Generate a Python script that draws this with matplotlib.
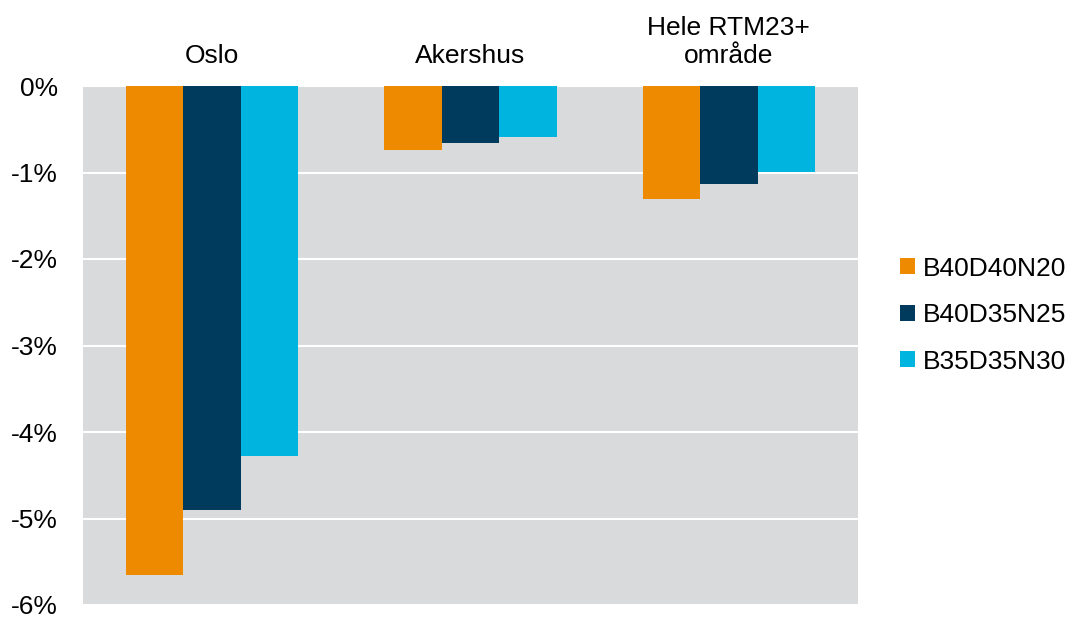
import matplotlib
matplotlib.use("Agg")
import matplotlib.pyplot as plt
import numpy as np
from matplotlib.ticker import FuncFormatter

categories = ["Oslo", "Akershus", "Hele RTM23+\nområde"]
series_names = ["B40D40N20", "B40D35N25", "B35D35N30"]
b40d40n20 = [-5.65, -0.74, -1.31]
b40d35n25 = [-4.90, -0.66, -1.13]
b35d35n30 = [-4.28, -0.59, -0.99]
colors = ["#EE8A00", "#003A5C", "#00B4E0"]

plt.rcParams['font.family'] = ['Liberation Sans', 'DejaVu Sans']

fig = plt.figure(figsize=(10.67, 6.19), dpi=100)
ax = fig.add_axes([83/1067, 1 - 605/619, (858-83)/1067, (605-86)/619])
ax.set_facecolor("#D9DADC")

x = np.arange(len(categories))
w = 0.222
for i, (vals, name) in enumerate(zip([b40d40n20, b40d35n25, b35d35n30], series_names)):
    ax.bar(x + (i - 1) * w, vals, width=w, color=colors[i], label=name, zorder=3)

ax.set_xlim(-0.5, 2.5)
ax.set_ylim(-6, 0)
ax.set_yticks(np.arange(-6, 1, 1))
ax.yaxis.set_major_formatter(FuncFormatter(lambda v, p: f"{int(round(v))}%"))
ax.grid(axis='y', color='white', linewidth=1.5, zorder=1)
for s in ax.spines.values():
    s.set_visible(False)
ax.tick_params(axis='y', length=0, labelsize=19, pad=18)
ax.tick_params(axis='x', length=0, labelsize=19, top=False, bottom=False,
               labeltop=True, labelbottom=False, pad=13)
ax.set_xticks(x)
ax.set_xticklabels(categories, linespacing=1.2)

ax.legend(loc='center left', bbox_to_anchor=(1.0406, 0.5585), frameon=False,
          fontsize=19, handlelength=0.55, handleheight=0.55, handletextpad=0.3,
          labelspacing=0.85, borderaxespad=0)

fig.savefig("out.png", dpi=100)
